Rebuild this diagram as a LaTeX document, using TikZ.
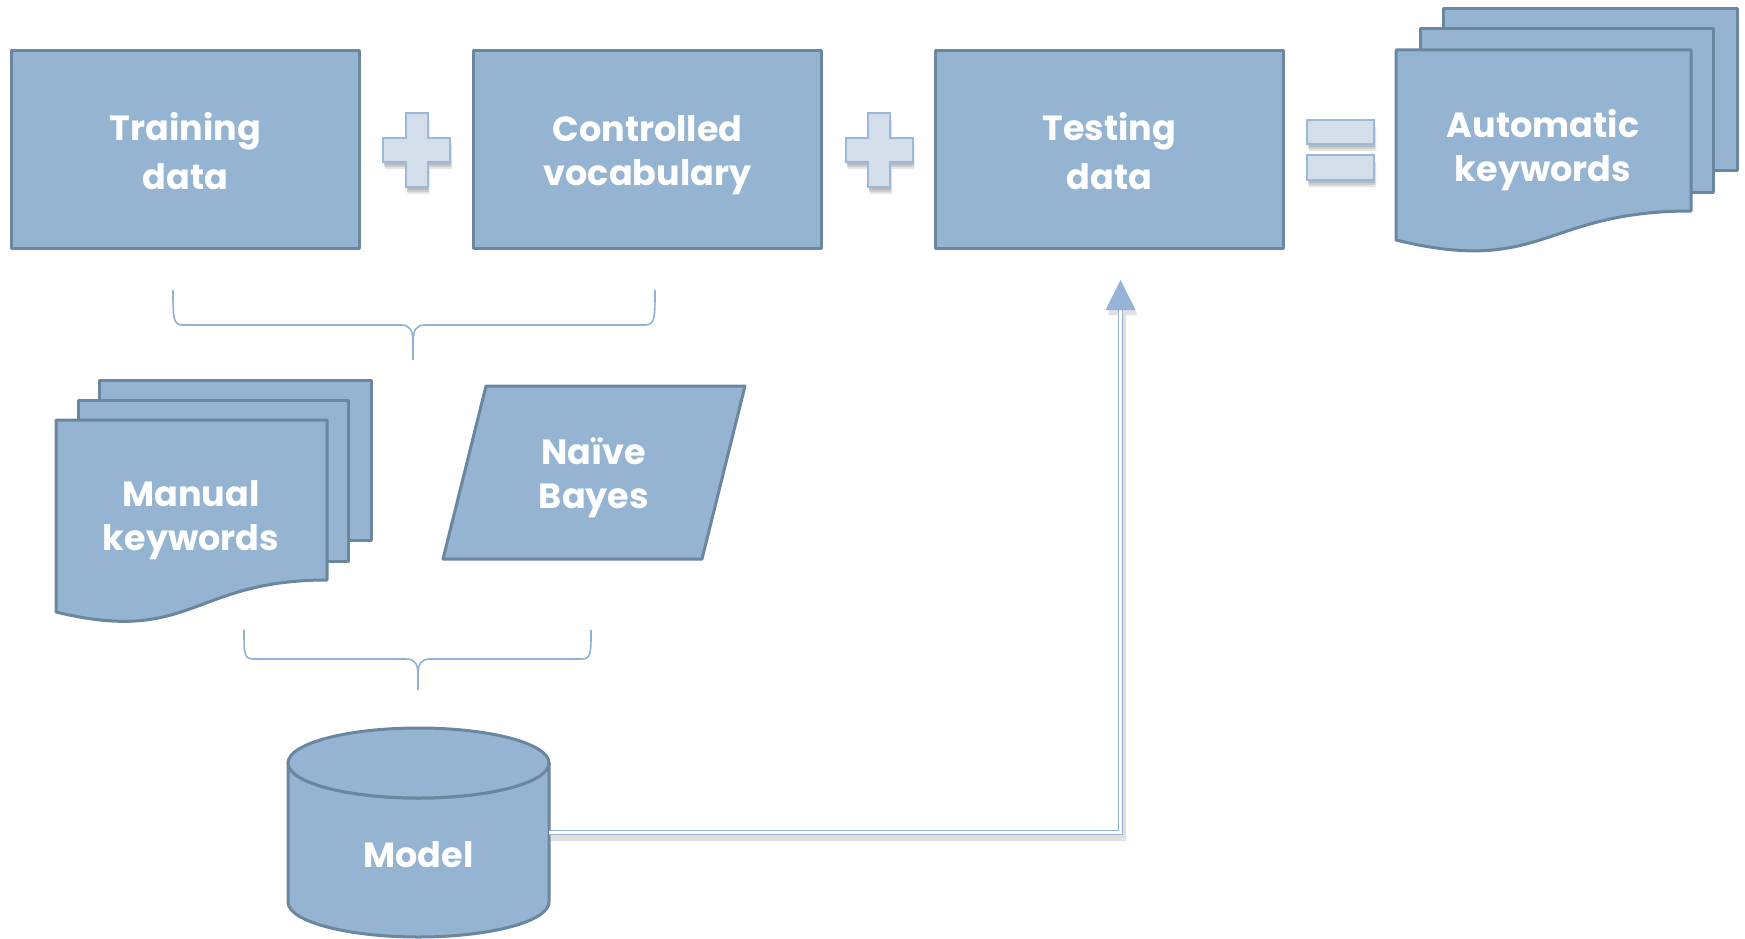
\documentclass[tikz,border=0pt]{standalone}
\usepackage{fontspec}
\setmainfont{Poppins}
\definecolor{boxfill}{HTML}{95B4D2}
\definecolor{boxdraw}{HTML}{6A879F}
\definecolor{signfill}{HTML}{D3DEEA}
\definecolor{signdraw}{HTML}{9BB9D6}
\definecolor{braceclr}{HTML}{8FB1D3}
\definecolor{arrowclr}{HTML}{95B3D7}
\newcommand\mystrutA{\rule[-6.5pt]{0pt}{44pt}}
\begin{document}
\begin{tikzpicture}[x=1pt,y=-1pt,
  box/.style={draw=boxdraw, fill=boxfill, line width=3pt, line join=round, minimum width=348pt, minimum height=198pt, inner sep=0pt},
  sheet/.style={draw=boxdraw, fill=boxfill, line width=3pt, line join=round},
  lbl/.style={text=white, font=\bfseries\fontsize{35}{44}\selectfont, align=center, inner sep=0pt},
  bracestyle/.style={draw=braceclr, line width=1.6pt},
  signstyle/.style={draw=signdraw, fill=signfill, line width=2pt},
  crosspath/.style={insert path={(-11,-37) -- (11,-37) -- (11,-12) -- (33.5,-12) -- (33.5,12) -- (11,12) -- (11,37) -- (-11,37) -- (-11,12) -- (-33.5,12) -- (-33.5,-12) -- (-11,-12) -- cycle}},
  eqpath/.style={insert path={(-33.5,-30) rectangle (33.5,-6) (-33.5,5) rectangle (33.5,30)}},
  plussign/.pic={
    \fill[black,opacity=.1,shift={(1,3)},crosspath];
    \fill[black,opacity=.1,shift={(1,5)},crosspath];
    \fill[black,opacity=.1,shift={(2,7)},crosspath];
    \draw[signstyle,crosspath];
  },
  equalsign/.pic={
    \fill[black,opacity=.1,shift={(1,3)},eqpath];
    \fill[black,opacity=.1,shift={(1,5)},eqpath];
    \fill[black,opacity=.1,shift={(2,7)},eqpath];
    \draw[signstyle,eqpath];
  },
  conn/.style={draw=arrowclr, line width=1.3pt, double=white, double distance=2.4pt},
]
\useasboundingbox (0,0) rectangle (1745,939);

% top row boxes
\node[box, lbl] (train) at (185.5,149.5) {Training\mystrutA\\data\mystrutA};
\node[box, lbl] (vocab) at (647.5,149.5) {Controlled\mystrutA\\vocabulary\mystrutA};
\node[box, lbl] (test) at (1109.5,149.5) {Testing\mystrutA\\data\mystrutA};

% operators
\pic (plusA) at (416.5,150) {plussign};
\pic (plusB) at (879,150) {plussign};
\pic (eq) at (1340.5,150) {equalsign};

% automatic keywords (multi-document)
\draw[sheet] (1443,9) rectangle (1737,170);
\draw[sheet] (1420,29) rectangle (1713,192);
\draw[sheet] (1396,50) -- (1691,50) -- (1691,211) .. controls (1543,211) and (1543,276) .. (1396,240) -- cycle;
\node[lbl] (auto) at (1543,145) {Automatic\mystrutA\\keywords\mystrutA};

% brace 1
\draw[bracestyle] (173,290) .. controls (173,318) and (173,325) .. (183,325) -- (401,325) .. controls (410,325) and (413,330) .. (413,343) -- (413,360);
\draw[bracestyle] (413,343) .. controls (413,330) and (416,325) .. (425,325) -- (645,325) .. controls (655,325) and (655,318) .. (655,290);

% manual keywords (multi-document)
\draw[sheet] (99,380) rectangle (371,540);
\draw[sheet] (78,400) rectangle (348,561);
\draw[sheet] (56,420) -- (327,420) -- (327,580) .. controls (191.5,580) and (191.5,645) .. (56,612) -- cycle;
\node[lbl] (manual) at (191,514) {Manual\mystrutA\\keywords\mystrutA};

% naive bayes (parallelogram)
\draw[sheet] (486,386) -- (745,386) -- (702,559) -- (443,559) -- cycle;
\node[lbl] (naive) at (594,472) {Naïve\mystrutA\\Bayes\mystrutA};

% brace 2
\draw[bracestyle] (244,630) .. controls (244,654) and (244,659) .. (254,659) -- (406,659) .. controls (415,659) and (418,664) .. (418,675) -- (418,690);
\draw[bracestyle] (418,675) .. controls (418,664) and (421,659) .. (430,659) -- (581,659) .. controls (591,659) and (591,654) .. (591,630);

% model (cylinder)
\draw[sheet] (288,763) -- (288,902) arc[start angle=180, end angle=0, x radius=130.5, y radius=35] -- (549,763) arc[start angle=0, end angle=180, x radius=130.5, y radius=35] -- cycle;
\draw[sheet] (418.5,763) ellipse [x radius=130.5, y radius=35];
\node[minimum width=261pt, minimum height=209pt, inner sep=0pt] (modelbox) at (418.5,832.5) {};
\node[lbl] (modeltxt) at (418.5,851.5) {Model\mystrutA};

% connector model -> testing data
\coordinate (tipbase) at (1120.5,310);
\coordinate (tip) at (1120.5,280);
\draw[black, opacity=.12, line width=6pt, transform canvas={xshift=2pt, yshift=-5pt}] (modelbox.east) -| (tipbase);
\fill[black, opacity=.12, transform canvas={xshift=2pt, yshift=-5pt}] (tip) -- ++(-15,30) -- ++(30,0) -- cycle;
\draw[conn] (modelbox.east) -| (tipbase);
\fill[arrowclr] (tip) -- ++(-15,30) -- ++(30,0) -- cycle;
\end{tikzpicture}
\end{document}
